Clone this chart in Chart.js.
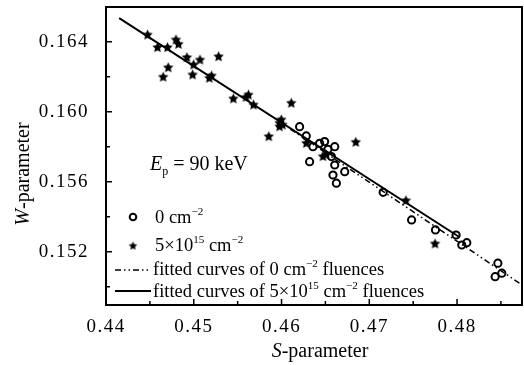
<!DOCTYPE html>
<html><head><meta charset="utf-8">
<script src="https://cdn.jsdelivr.net/npm/chart.js@4.4.0/dist/chart.umd.min.js"></script>
<style>html,body{margin:0;padding:0;background:#fff}#wrap{width:524px;height:365px}</style>
</head><body><div id="wrap"><canvas id="c" width="524" height="365"></canvas></div>
<script>
// ---- data ----
const S_0 = [0.46206,0.46282,0.46358,0.46434,0.46491,0.46606,0.46529,0.46320,0.46568,0.46606,0.46586,0.46625,0.46720,0.47158,0.47482,0.47754,0.47989,0.48111,0.48054,0.48465,0.48434,0.48510];
const W_0 = [0.15914,0.15861,0.15800,0.15819,0.15829,0.15800,0.15785,0.15714,0.15743,0.15695,0.15638,0.15591,0.15657,0.15539,0.15381,0.15324,0.15295,0.15251,0.15238,0.15134,0.15057,0.15077];
const S_5 = [0.44473,0.44587,0.44701,0.44651,0.44709,0.44797,0.44826,0.44922,0.44998,0.44987,0.45071,0.45177,0.45203,0.45283,0.45451,0.45596,0.45623,0.45680,0.45855,0.45977,0.45997,0.45977,0.46011,0.46111,0.46282,0.46472,0.46511,0.46846,0.47417,0.47749];
const W_5 = [0.16438,0.16366,0.16366,0.16197,0.16251,0.16410,0.16385,0.16309,0.16267,0.16210,0.16295,0.16191,0.16204,0.16314,0.16073,0.16082,0.16095,0.16038,0.15857,0.15934,0.15953,0.15914,0.15924,0.16048,0.15819,0.15743,0.15753,0.15825,0.15491,0.15244];
const fit0_S = [0.4610, 0.4874];
const fit0_W = [0.15900, 0.15010];
const fit5_S = [0.4415, 0.4803];
const fit5_W = [0.16534, 0.15282];
const xTicks = [0.44, 0.45, 0.46, 0.47, 0.48];
const xMinor = [0.445, 0.455, 0.465, 0.475, 0.485];
const yTicks = [0.152, 0.156, 0.160, 0.164];
const yMinor = [0.150, 0.154, 0.158, 0.162];
const xRange = [0.44, 0.4874];
const yRange = [0.14895, 0.16598];
const legendLabels = ['0 cm', '5\u00d710', 'fitted curves of 0 cm', 'fitted curves of 5\u00d710'];

const FONT = '"Liberation Serif", "DejaVu Serif", serif';
const zip = (a, b) => a.map((v, i) => ({x: v, y: b[i]}));

function makeStar(r) {
  const size = Math.ceil(r * 2 + 2);
  const c = document.createElement('canvas');
  c.width = size; c.height = size;
  const g = c.getContext('2d');
  const cx = size / 2, cy = size / 2, ri = r * 0.48;
  g.beginPath();
  for (let i = 0; i < 10; i++) {
    const rr = i % 2 === 0 ? r : ri;
    const a = -Math.PI / 2 + i * Math.PI / 5;
    const px = cx + rr * Math.cos(a), py = cy + rr * Math.sin(a);
    i ? g.lineTo(px, py) : g.moveTo(px, py);
  }
  g.closePath();
  g.fillStyle = '#000';
  g.fill();
  return c;
}
const starImg = makeStar(5.5);
const starSmall = makeStar(4.5);

function drawRich(ctx, x, y, parts, size) {
  let cx = x;
  ctx.textBaseline = 'alphabetic';
  ctx.textAlign = 'left';
  for (const p of parts) {
    let fs = size, dy = 0;
    if (p.sup) { fs = size * 0.6; dy = -size * 0.42; }
    if (p.sub) { fs = size * 0.6; dy = size * 0.25; }
    ctx.font = (p.it ? 'italic ' : '') + fs + 'px ' + FONT;
    ctx.fillText(p.t, cx, y + dy);
    cx += ctx.measureText(p.t).width;
  }
  return cx - x;
}
function richWidth(ctx, parts, size) {
  let w = 0;
  for (const p of parts) {
    const fs = (p.sup || p.sub) ? size * 0.6 : size;
    ctx.font = (p.it ? 'italic ' : '') + fs + 'px ' + FONT;
    w += ctx.measureText(p.t).width;
  }
  return w;
}

// pin the plot frame's right edge to match the reference frame
const areaPlugin = {
  id: 'area',
  afterLayout(chart) {
    const R = chart.width - 2;
    const a = chart.chartArea;
    a.right = R; a.width = R - a.left;
    const xs = chart.scales.x;
    xs.right = R; xs.width = R - xs.left;
    xs.configure();
  }
};

const spacingPlugin = {
  id: 'spacing',
  beforeDraw(chart) { chart.ctx.letterSpacing = '1.5px'; },
  beforeDatasetsDraw(chart) { chart.ctx.letterSpacing = '0px'; }
};

const framePlugin = {
  id: 'frame',
  afterDraw(chart) {
    const ctx = chart.ctx, a = chart.chartArea;
    const xs = chart.scales.x, ys = chart.scales.y;
    ctx.save();
    ctx.letterSpacing = '0px';
    ctx.strokeStyle = '#000';
    ctx.lineWidth = 2;
    ctx.strokeRect(a.left, a.top, a.right - a.left, a.bottom - a.top);
    ctx.lineWidth = 1.5;
    ctx.beginPath();
    for (const v of xTicks) { const p = xs.getPixelForValue(v); ctx.moveTo(p, a.bottom); ctx.lineTo(p, a.bottom - 6); }
    for (const v of xMinor) { const p = xs.getPixelForValue(v); ctx.moveTo(p, a.bottom); ctx.lineTo(p, a.bottom - 4); }
    for (const v of yTicks) { const p = ys.getPixelForValue(v); ctx.moveTo(a.left, p); ctx.lineTo(a.left + 6, p); }
    for (const v of yMinor) { const p = ys.getPixelForValue(v); ctx.moveTo(a.left, p); ctx.lineTo(a.left + 4, p); }
    ctx.stroke();

    ctx.fillStyle = '#000';
    const xt = [{t: 'S', it: true}, {t: '-parameter'}];
    const xw = richWidth(ctx, xt, 20);
    drawRich(ctx, 320 - xw / 2, 357, xt, 20);
    const yt = [{t: 'W', it: true}, {t: '-parameter'}];
    const yw = richWidth(ctx, yt, 20);
    ctx.save();
    ctx.translate(29, 174);
    ctx.rotate(-Math.PI / 2);
    drawRich(ctx, -yw / 2, 0, yt, 20);
    ctx.restore();

    drawRich(ctx, 150, 170, [{t: 'E', it: true}, {t: 'p', sub: true}, {t: ' = 90 keV'}], 20);

    const lx = 133, tx = 155, fs = 18.5;
    ctx.lineWidth = 2;
    ctx.beginPath(); ctx.arc(lx, 217, 3.3, 0, Math.PI * 2); ctx.stroke();
    drawRich(ctx, tx, 223, [{t: '0 cm'}, {t: '\u22122', sup: true}], fs);
    ctx.drawImage(starSmall, lx - starSmall.width / 2, 246 - starSmall.height / 2);
    drawRich(ctx, tx, 251, [{t: '5\u00d710'}, {t: '15', sup: true}, {t: ' cm'}, {t: '\u22122', sup: true}], fs);
    ctx.lineWidth = 1.5;
    ctx.setLineDash([6, 3, 1.5, 3, 1.5, 3]);
    ctx.beginPath(); ctx.moveTo(115, 270); ctx.lineTo(151, 270); ctx.stroke();
    ctx.setLineDash([]);
    drawRich(ctx, 153, 275, [{t: 'fitted curves of 0 cm'}, {t: '\u22122', sup: true}, {t: ' fluences'}], fs);
    ctx.lineWidth = 2;
    ctx.beginPath(); ctx.moveTo(115, 291); ctx.lineTo(151, 291); ctx.stroke();
    drawRich(ctx, 153, 297, [{t: 'fitted curves of 5\u00d710'}, {t: '15', sup: true}, {t: ' cm'}, {t: '\u22122', sup: true}, {t: ' fluences'}], fs);
    ctx.restore();
  }
};

new Chart(document.getElementById('c'), {
  type: 'scatter',
  data: {
    datasets: [
      {label: legendLabels[0], data: zip(S_0, W_0), pointStyle: 'circle', pointRadius: 3.6,
       borderColor: '#000', backgroundColor: 'rgba(0,0,0,0)', borderWidth: 2, showLine: false, order: 1},
      {label: legendLabels[1], data: zip(S_5, W_5), pointStyle: starImg, pointRadius: 5.5,
       borderColor: '#000', backgroundColor: '#000', showLine: false, order: 2},
      {label: legendLabels[2], data: zip(fit0_S, fit0_W), showLine: true, pointRadius: 0,
       borderColor: '#000', borderWidth: 1.5, borderDash: [6, 3, 1.5, 3, 1.5, 3], order: 3},
      {label: legendLabels[3], data: zip(fit5_S, fit5_W), showLine: true, pointRadius: 0,
       borderColor: '#000', borderWidth: 2, order: 4}
    ]
  },
  options: {
    responsive: false,
    animation: false,
    devicePixelRatio: 1,
    layout: {padding: {top: 7, right: 2, left: 0, bottom: 0}},
    plugins: {legend: {display: false}, tooltip: {enabled: false}},
    scales: {
      x: {
        type: 'linear', min: xRange[0], max: xRange[1],
        grid: {display: false}, border: {display: false},
        afterBuildTicks: s => { s.ticks = xTicks.map(v => ({value: v})); },
        afterFit: s => { s.height = 60; s.paddingLeft = 0; s.paddingRight = 0; },
        ticks: {color: '#000', font: {family: FONT, size: 19}, padding: 3,
                maxRotation: 0, callback: v => v.toFixed(2)}
      },
      y: {
        type: 'linear', min: yRange[0], max: yRange[1],
        grid: {display: false}, border: {display: false},
        afterBuildTicks: s => { s.ticks = yTicks.map(v => ({value: v})); },
        afterFit: s => { s.width = 106; s.paddingTop = 0; s.paddingBottom = 0; },
        ticks: {color: '#000', font: {family: FONT, size: 19}, padding: 9,
                callback: v => v.toFixed(3)}
      }
    }
  },
  plugins: [areaPlugin, spacingPlugin, framePlugin]
});
</script>
</body></html>
